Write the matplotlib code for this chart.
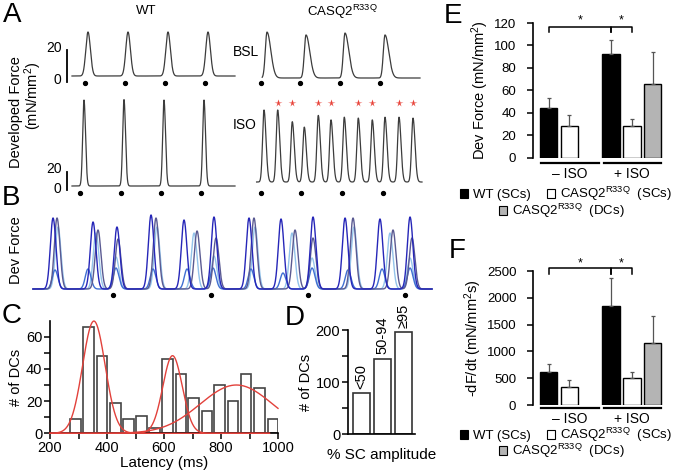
import numpy as np
import matplotlib
matplotlib.use("Agg")
import matplotlib.pyplot as plt
from matplotlib.patches import Patch

plt.rcParams['font.family'] = ['Liberation Sans', 'DejaVu Sans']
plt.rcParams['mathtext.fontset'] = 'custom'
plt.rcParams['mathtext.rm'] = 'Liberation Sans'
plt.rcParams['mathtext.it'] = 'Liberation Sans:italic'
plt.rcParams['mathtext.bf'] = 'Liberation Sans:bold'

# ---------------- DATA ----------------
# Panel A (times in ms, force in mN/mm^2)
wt_bsl_peak_t = [400, 1400, 2400, 3400]
wt_bsl_peak_amp = [27.5, 27.5, 27.5, 27.5]
wt_bsl_stim_t = [325, 1325, 2325, 3325]
wt_iso_peak_t = [300, 1300, 2300, 3300]
wt_iso_peak_amp = [95.5, 96.0, 95.5, 95.5]
wt_iso_stim_t = [200, 1225, 2225, 3225]
mut_bsl_peak_t = [300, 1275, 2250, 3250]
mut_bsl_peak_amp = [28.7, 26.9, 28.1, 26.9]
mut_bsl_stim_t = [150, 1125, 2125, 3125]
mut_iso_peak_t = [225, 567, 932, 1232, 1582, 1900, 2232, 2582, 2932, 3250, 3600, 3950]
mut_iso_peak_amp = [80, 80, 67, 61, 74, 69, 72, 71, 69, 72, 72, 71]
mut_iso_dc_t = [567, 932, 1582, 1900, 2582, 2932, 3600, 3950]
mut_iso_stim_t = [150, 1150, 2167, 3192]
scale_bar = [0, 20]

# Panel B (times in ms, arbitrary force units)
b_stim_t = [822, 1829, 2826, 3823]
b_t1 = [206, 617, 863, 1213, 1552, 1860, 2220, 2549, 2878, 3207, 3566, 3875]
b_a1 = [71, 67, 62, 74, 69, 72, 71, 70, 72, 71, 70, 72]
b_t2 = [247, 668, 874, 1264, 1686, 1881, 2271, 2693, 2878, 3289, 3700, 3895]
b_a2 = [71, 59, 50, 71, 58, 51, 71, 59, 51, 71, 59, 51]
b_t3 = [257, 647, 853, 1274, 1655, 1860, 2282, 2662, 2868, 3299, 3669, 3875]
b_a3 = [62, 56, 32, 62, 56, 33, 62, 56, 31, 62, 56, 31]
b_t4 = [226, 565, 853, 1233, 1583, 1850, 2240, 2569, 2868, 3237, 3587, 3875]
b_a4 = [19, 20, 21, 20, 20, 21, 20, 16, 21, 19, 20, 21]

# Panel C
latency_bins = [289, 336, 382, 429, 476, 520, 567, 613, 660, 704, 751, 795, 842, 888, 935, 982]
latency_counts = [9, 66, 48, 19, 9, 11, 3, 46, 37, 22, 14, 30, 20, 37, 28, 9]
fit_mean = [354, 630, 854]
fit_sd = [39.5, 34, 127]
fit_height = [69.7, 48.2, 30]

# Panel D
amp_cats = ["<50", "50-94", "\u226595"]
amp_counts = [79, 145, 196]

# Panels E / F
groups = ["\u2013 ISO", "+ ISO"]
force_wt_sc = [44, 92]
force_wt_sc_err = [9, 13]
force_mut_sc = [28.5, 28.5]
force_mut_sc_err = [9.5, 6]
force_mut_dc = [np.nan, 66]
force_mut_dc_err = [np.nan, 28]
dfdt_wt_sc = [622, 1853]
dfdt_wt_sc_err = [137, 511]
dfdt_mut_sc = [342, 497]
dfdt_mut_sc_err = [124, 125]
dfdt_mut_dc = [np.nan, 1163]
dfdt_mut_dc_err = [np.nan, 504]

# ---------------- FIGURE ----------------
W, H = 679, 471
fig = plt.figure(figsize=(W / 100, H / 100), dpi=100)


def px_axes(x0, y0, x1, y1):
    return fig.add_axes([x0 / W, 1 - y1 / H, (x1 - x0) / W, (y1 - y0) / H])


def pulse(t, tp, rise, fall):
    d = t - tp
    return np.where(d < 0, np.exp(-0.5 * (d / rise) ** 2), np.exp(-0.5 * (d / fall) ** 2))


def trace_axes(x0, x1, top, base_px, bottom, scale, base_val, px_per_ms):
    ax = px_axes(x0, top, x1, bottom)
    t_end = (x1 - x0) / px_per_ms
    ax.set_xlim(0, t_end)
    ax.set_ylim(base_val - (bottom - base_px) / scale, base_val + (base_px - top) / scale)
    ax.axis('off')
    return ax, t_end


def draw_trace(ax, t_end, base_val, peak_t, peak_a, rise, fall, color='#3c3c3c', lw=0.9, t0=0):
    t = np.linspace(t0, t_end, 3000)
    y = np.full_like(t, base_val)
    for tp, a in zip(peak_t, peak_a):
        y = y + a * pulse(t, tp, rise, fall)
    ax.plot(t, y, color=color, lw=lw, clip_on=False)


PXMS_A = 0.04
# WT BSL
ax, te = trace_axes(72, 235, 25, 76, 95, 1.6, 3.75, PXMS_A)
draw_trace(ax, te, 3.75, wt_bsl_peak_t, wt_bsl_peak_amp, 55, 60)
ax.plot(wt_bsl_stim_t, [3.75 - 7 / 1.6] * 4, 'o', color='k', ms=2.8, clip_on=False)
ax.plot([-125, -125], scale_bar, color='k', lw=1.3, clip_on=False)
ax.text(-260, scale_bar[1] + 1, "20", ha='right', va='center', fontsize=10, clip_on=False)
ax.text(-260, scale_bar[0] + 1, "0", ha='right', va='center', fontsize=10, clip_on=False)
# WT ISO
ax, te = trace_axes(72, 235, 95, 186, 200, 0.9, 4.44, PXMS_A)
draw_trace(ax, te, 4.44, wt_iso_peak_t, wt_iso_peak_amp, 33, 38)
ax.plot(wt_iso_stim_t, [4.44 - 7 / 0.9] * 4, 'o', color='k', ms=2.8, clip_on=False)
ax.plot([-125, -125], scale_bar, color='k', lw=1.3, clip_on=False)
ax.text(-260, scale_bar[1] + 3, "20", ha='right', va='center', fontsize=10, clip_on=False)
ax.text(-260, scale_bar[0] + 1, "0", ha='right', va='center', fontsize=10, clip_on=False)
# mutant BSL
ax, te = trace_axes(255, 420, 25, 78, 95, 1.6, 3.75, PXMS_A)
draw_trace(ax, te, 3.75, mut_bsl_peak_t, mut_bsl_peak_amp, 42, 95, t0=180)
ax.plot(mut_bsl_stim_t, [3.75 - 5 / 1.6] * 4, 'o', color='k', ms=2.8, clip_on=False)
# mutant ISO
ax, te = trace_axes(255, 422, 95, 182, 200, 0.9, 4.44, PXMS_A)
draw_trace(ax, te, 4.44, mut_iso_peak_t, mut_iso_peak_amp, 36, 50, t0=40)
ax.plot(mut_iso_stim_t, [4.44 - 11 / 0.9] * 4, 'o', color='k', ms=2.8, clip_on=False)
ax.plot(mut_iso_dc_t, [4.44 + 79 / 0.9] * len(mut_iso_dc_t), '*', color='#e8453c',
        ms=5.5, mec='none', clip_on=False)

fig.text(146 / W, 1 - 11 / H, "WT", ha='center', va='center', fontsize=9.5)
fig.text(342 / W, 1 - 12 / H, "CASQ2$^{\\rm R33Q}$", ha='center', va='center', fontsize=9.5)
fig.text(233 / W, 1 - 52 / H, "BSL", ha='left', va='center', fontsize=10)
fig.text(233 / W, 1 - 125 / H, "ISO", ha='left', va='center', fontsize=10)
fig.text(16 / W, 1 - 112 / H, "Developed Force", rotation=90, ha='center', va='center', fontsize=10.5)
fig.text(33 / W, 1 - 96 / H, "(mN/mm$^2$)", rotation=90, ha='center', va='center', fontsize=10.5)

# ---------------- Panel B ----------------
ax, te = trace_axes(33, 432, 210, 289, 300, 1.0, 0.0, 0.0973)
draw_trace(ax, te, 0, b_t3, b_a3, 28, 30, color='#93c3ea', lw=1.0)
draw_trace(ax, te, 0, b_t4, b_a4, 28, 30, color='#3f6fd2', lw=1.0)
draw_trace(ax, te, 0, b_t2, b_a2, 28, 30, color='#5a5a92', lw=1.0)
draw_trace(ax, te, 0, b_t1, b_a1, 28, 30, color='#2626b8', lw=1.0)
ax.plot(b_stim_t, [-6] * 4, 'o', color='k', ms=2.8, clip_on=False)
fig.text(16 / W, 1 - 250 / H, "Dev Force", rotation=90, ha='center', va='center', fontsize=10.5)

# ---------------- Panel C ----------------
ax = px_axes(50, 320.6, 278, 433.3)
ax.bar(latency_bins, latency_counts, width=37.5, facecolor='white', edgecolor='#444444', lw=1.2)
xx = np.linspace(200, 970, 500)
xx3 = np.linspace(200, 1000, 500)
for m, s, h, xs in zip(fit_mean, fit_sd, fit_height, [xx, xx, xx3]):
    ax.plot(xs, h * np.exp(-0.5 * ((xs - m) / s) ** 2), color='#e2413b', lw=1.0, clip_on=False, zorder=5)
ax.set_xlim(200, 1000)
ax.set_ylim(0, 70)
ax.set_xticks([200, 400, 600, 800, 1000])
ax.set_xticks([300, 500, 700, 900], minor=True)
ax.set_yticks([0, 20, 40, 60])
ax.set_yticks([10, 30, 50], minor=True)
for sp in ['top', 'right']:
    ax.spines[sp].set_visible(False)
for sp in ['left', 'bottom']:
    ax.spines[sp].set_linewidth(1.2)
ax.tick_params(which='both', direction='out', length=4, width=1.1, labelsize=10.5, pad=1.5)
ax.set_xlabel("Latency (ms)", fontsize=11, labelpad=1)
ax.set_ylabel("# of DCs", fontsize=10.5, labelpad=2)

# ---------------- Panel D ----------------
ax = px_axes(348, 330, 415, 434)
xd = np.arange(len(amp_cats))
ax.bar(xd, amp_counts, width=0.81, facecolor='white', edgecolor='#333333', lw=1.2)
for i, (c, v) in enumerate(zip(amp_cats, amp_counts)):
    ax.annotate(c, (i, v), xytext=(0, 3), textcoords='offset points', rotation=90,
                ha='center', va='bottom', fontsize=10.5, annotation_clip=False)
ax.set_xlim(-0.64, 2.55)
ax.set_ylim(0, 200)
ax.set_xticks([])
ax.set_yticks([0, 100, 200])
ax.set_yticks([50, 150], minor=True)
for sp in ['top', 'right']:
    ax.spines[sp].set_visible(False)
for sp in ['left', 'bottom']:
    ax.spines[sp].set_linewidth(1.2)
ax.tick_params(which='both', direction='out', length=4, width=1.1, labelsize=10.5, pad=1.5)
ax.set_xlabel("% SC amplitude", fontsize=11, labelpad=10)
ax.set_ylabel("# of DCs", fontsize=10.5, labelpad=2)


# ---------------- Panels E / F ----------------
def bar_panel(y0, y1, wt, wt_e, msc, msc_e, mdc, mdc_e, ylim, step, ylabel,
              br_y, br_h, star_y, ul_y, lab_y, leg_y1, leg_y2):
    ax = px_axes(533, y0, 665, y1)
    pos = np.array([0, 3])
    kw = dict(width=0.85, lw=1.0, edgecolor='black')
    ekw = dict(fmt='none', ecolor='#555555', elinewidth=0.9, capsize=1.5, capthick=0.9)
    ax.bar(pos, wt, facecolor='black', **kw)
    ax.bar(pos + 1, msc, facecolor='white', **kw)
    ax.bar(pos + 2, mdc, facecolor='#b4b4b4', **kw)
    ax.errorbar(pos, wt, yerr=[np.zeros(2), wt_e], **ekw)
    ax.errorbar(pos + 1, msc, yerr=[np.zeros(2), msc_e], **ekw)
    ax.errorbar(pos + 2, mdc, yerr=[np.zeros(2), mdc_e], **ekw)
    ax.set_xlim(-0.75, 5.6)
    ax.set_ylim(0, ylim)
    ax.set_yticks(np.arange(0, ylim + 1, step))
    ax.set_xticks([])
    for sp in ['top', 'right', 'bottom']:
        ax.spines[sp].set_visible(False)
    ax.spines['left'].set_linewidth(1.2)
    ax.tick_params(axis='y', direction='out', length=4, width=1.1, labelsize=9.5, pad=8)
    ax.set_ylabel(ylabel, fontsize=10.5, labelpad=2)
    # significance brackets
    for a, b in [(0, 3), (3, 4)]:
        ax.plot([a, a, b, b], [br_y - br_h, br_y, br_y, br_y - br_h], color='black', lw=1.1, clip_on=False)
        ax.text((a + b) / 2, star_y, "*", ha='center', va='center', fontsize=9, clip_on=False)
    # group underline + labels
    for g, lab in zip(pos, groups):
        ax.plot([g - 0.35, g + 2.42], [ul_y, ul_y], color='black', lw=1.6, clip_on=False)
        ax.text(g + 1, lab_y, lab, ha='center', va='center', fontsize=10, clip_on=False)
    h1 = [Patch(facecolor='black', edgecolor='black', lw=0.8),
          Patch(facecolor='white', edgecolor='black', lw=0.8)]
    fig.legend(h1, ["WT (SCs)", "CASQ2$^{\\rm R33Q}$  (SCs)"], loc='center left',
               bbox_to_anchor=(460 / W, 1 - leg_y1 / H), ncol=2, frameon=False, fontsize=9.5,
               handlelength=0.6, handleheight=0.6, handletextpad=0.35, columnspacing=1.3,
               borderpad=0, borderaxespad=0)
    h2 = [Patch(facecolor='#b4b4b4', edgecolor='black', lw=0.8)]
    fig.legend(h2, ["CASQ2$^{\\rm R33Q}$  (DCs)"], loc='center left',
               bbox_to_anchor=(499 / W, 1 - leg_y2 / H), frameon=False, fontsize=9.5,
               handlelength=0.6, handleheight=0.6, handletextpad=0.35,
               borderpad=0, borderaxespad=0)
    return ax


bar_panel(23, 158, force_wt_sc, force_wt_sc_err, force_mut_sc, force_mut_sc_err,
          force_mut_dc, force_mut_dc_err, 120, 20, "Dev Force (mN/mm$^2$)",
          116.4, 4.4, 122.7, -4.4, -14.2, 194, 211)
bar_panel(271, 405, dfdt_wt_sc, dfdt_wt_sc_err, dfdt_mut_sc, dfdt_mut_sc_err,
          dfdt_mut_dc, dfdt_mut_dc_err, 2500, 500, "-dF/dt (mN/mm$^2$s)",
          2556, 120, 2650, -56, -261, 435, 451)

# panel letters
for letter, x, y in [("A", 3, 15), ("B", 2, 198), ("C", 2, 316), ("D", 285, 318),
                     ("E", 444, 16), ("F", 449, 251)]:
    fig.text(x / W, 1 - y / H, letter, ha='left', va='center', fontsize=20)

fig.savefig("out.png", dpi=100)
